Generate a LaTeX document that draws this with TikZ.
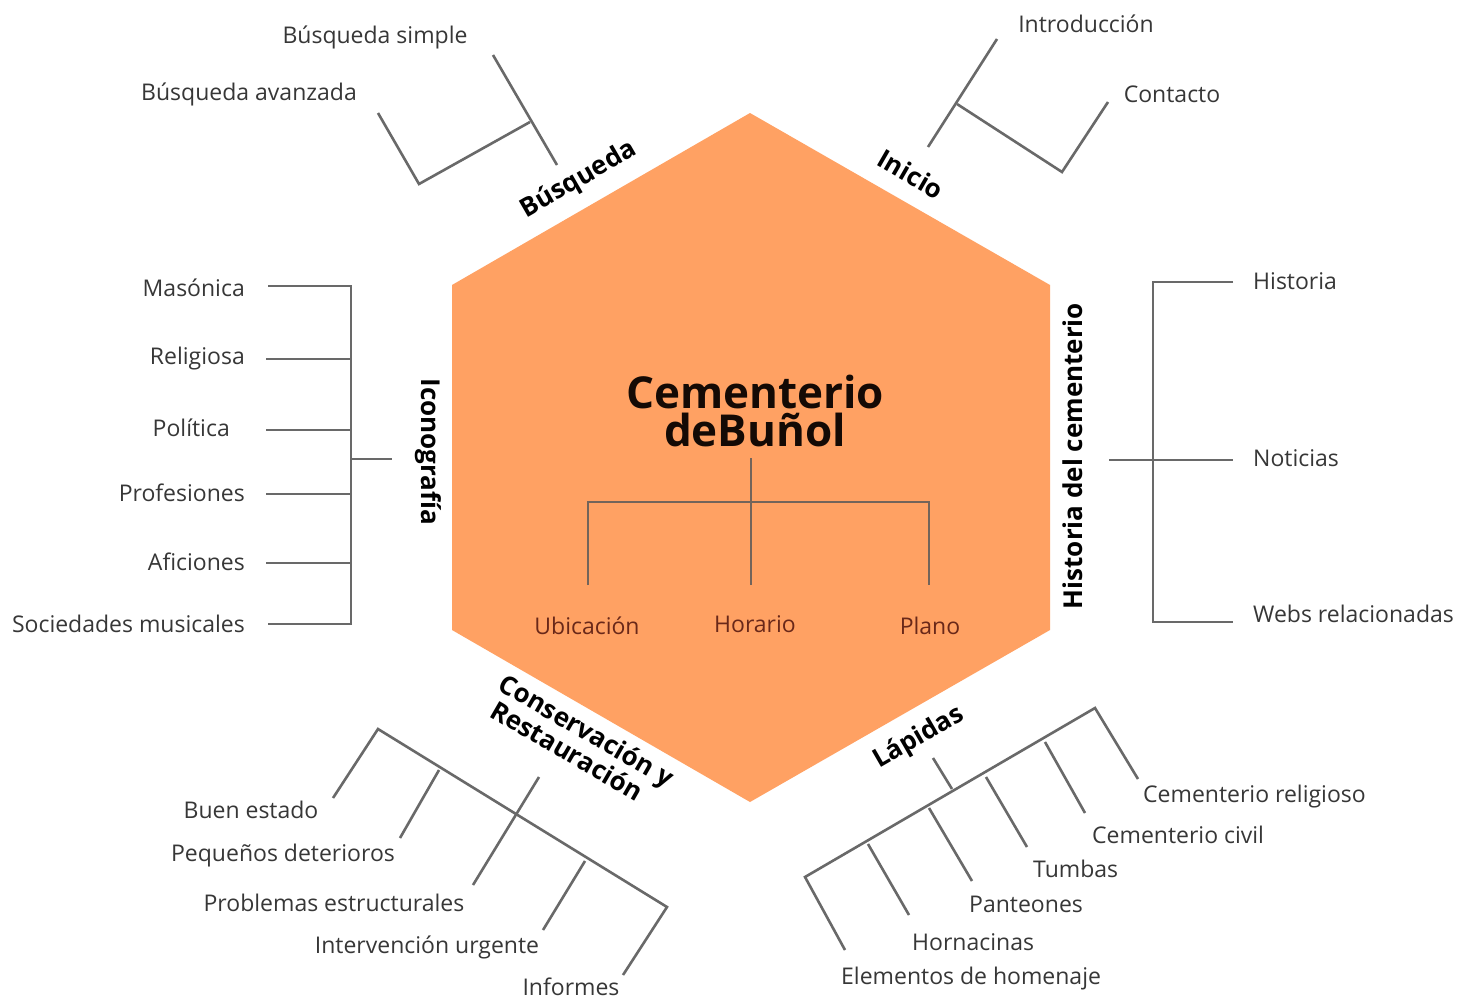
\documentclass[tikz,border=0pt]{standalone}
\usepackage{fontspec}
\setmainfont{Open Sans}
\definecolor{hexfill}{RGB}{255,161,99}
\definecolor{linegray}{RGB}{105,105,105}
\definecolor{innerline}{RGB}{115,100,90}
\definecolor{txt}{RGB}{55,55,55}
\definecolor{subtxt}{RGB}{105,40,25}
\definecolor{titletxt}{RGB}{20,10,5}
\begin{document}
\begin{tikzpicture}[x=1pt,y=-1pt,
  leaf/.style={font=\fontsize{23}{27}\selectfont, text=txt, inner sep=0pt},
  sect/.style={font=\fontsize{26}{24}\selectfont\bfseries, text=black, inner sep=0pt},
  sub/.style={font=\fontsize{23}{27}\selectfont, text=subtxt, inner sep=0pt},
  ttl/.style={font=\fontsize{44}{38}\selectfont\bfseries, text=titletxt, align=center, inner sep=0pt},
  ln/.style={draw=linegray, line width=2.6pt},
  iln/.style={draw=innerline, line width=2.4pt}
]
\path[use as bounding box, fill=white] (0,0) rectangle (1477,999);

% hexagon
\fill[hexfill] (750,113) -- (1050,285) -- (1050,630) -- (750,802) -- (452,630) -- (452,285) -- cycle;

% centre
\node[ttl] (title) at (755,411) {Cementerio\\deBuñol};
\coordinate (tTop) at (751,458);
\coordinate (tMid) at (751,502);
\coordinate (tL) at (588,502);
\coordinate (tR) at (929,502);
\coordinate (tLb) at (588,585);
\coordinate (tMb) at (751,585);
\coordinate (tRb) at (929,585);
\draw[iln] (tTop) -- (tMb);
\draw[iln] (tLb) -- (tL) -- (tR) -- (tRb);
\node[sub] (ubi) at (587,626) {Ubicación};
\node[sub] (hor) at (755,624) {Horario};
\node[sub] (pla) at (930,626) {Plano};

% Busqueda
\node[sect, rotate=30] (sBus) at (579,180) {Búsqueda};
\coordinate (bs1) at (493,55);
\coordinate (bs2) at (557,165);
\coordinate (bj) at (530,122);
\coordinate (bc) at (419,184);
\coordinate (ba) at (378,113);
\draw[ln] (bs1) -- (bs2);
\draw[ln] (bj) -- (bc) -- (ba);
\node[leaf] (lbs) at (375,37) {Búsqueda simple};
\node[leaf] (lba) at (249,94) {Búsqueda avanzada};

% Inicio
\node[sect, rotate=-30] (sIni) at (911,174) {Inicio};
\coordinate (i1) at (997,39);
\coordinate (i2) at (928,147);
\coordinate (ij) at (957,104);
\coordinate (ic) at (1062,172);
\coordinate (ie) at (1108,102);
\draw[ln] (i1) -- (i2);
\draw[ln] (ij) -- (ic) -- (ie);
\node[leaf] (lin) at (1086,24) {Introducción};
\node[leaf] (lco) at (1172,94) {Contacto};

% Iconografia
\node[sect, rotate=-90] (sIco) at (428,452) {Iconografía};
\coordinate (icT) at (351,286);
\coordinate (icB) at (351,624);
\coordinate (icM) at (351,459);
\coordinate (icS) at (392,459);
\draw[ln] (268,286) -- (icT) -- (icB) -- (268,624);
\draw[ln] (icM) -- (icS);
\foreach \yy in {359,430,494,563} {\draw[ln] (266,\yy) -- (351,\yy);}
\node[leaf, anchor=east] (lmas) at (245,288) {Masónica};
\node[leaf, anchor=east] (lrel) at (245,359) {Religiosa};
\node[leaf, anchor=east] (lpol) at (230,428) {Política};
\node[leaf, anchor=east] (lpro) at (245,493) {Profesiones};
\node[leaf, anchor=east] (lafi) at (245,562) {Aficiones};
\node[leaf, anchor=east] (lsoc) at (245,624) {Sociedades musicales};

% Historia
\node[sect, rotate=90] (sHis) at (1073,456) {Historia del cementerio};
\coordinate (hT) at (1153,282);
\coordinate (hB) at (1153,622);
\coordinate (hM) at (1109,460);
\draw[ln] (1233,282) -- (hT) -- (hB) -- (1233,622);
\draw[ln] (hM) -- (1233,460);
\node[leaf, anchor=west] (lhis) at (1253,281) {Historia};
\node[leaf, anchor=west] (lnot) at (1253,458) {Noticias};
\node[leaf, anchor=west] (lweb) at (1253,614) {Webs relacionadas};

% Conservacion
\node[sect, rotate=-30, align=left] (sCon) at (580,742) {Conservación y\\\hspace{6pt}Restauración};
\coordinate (cA) at (378,729);
\coordinate (cZ) at (667,907);
\draw[ln] (333,798) -- (cA) -- (cZ) -- (623,975);
\draw[ln] (439,770) -- (400,838);
\draw[ln] (539,777) -- (473,885);
\draw[ln] (585,861) -- (543,930);
\node[leaf] (lbue) at (251,810) {Buen estado};
\node[leaf] (lpeq) at (283,856) {Pequeños deterioros};
\node[leaf] (lpst) at (334,903) {Problemas estructurales};
\node[leaf] (lint) at (427,947) {Intervención urgente};
\node[leaf] (linf) at (571,987) {Informes};

% Lapidas
\node[sect, rotate=30] (sLap) at (919,738) {Lápidas};
\coordinate (lA) at (805,877);
\coordinate (lZ) at (1095,708);
\draw[ln] (845,950) -- (lA) -- (lZ) -- (1138,779);
\draw[ln] (933,758) -- (952,789);
\draw[ln] (868,844) -- (909,915);
\draw[ln] (929,808) -- (972,881);
\draw[ln] (986,777) -- (1027,847);
\draw[ln] (1045,742) -- (1085,813);
\node[leaf, anchor=west] (lrg) at (1143,797) {Cementerio religioso};
\node[leaf, anchor=west] (lcv) at (1092,835) {Cementerio civil};
\node[leaf, anchor=west] (ltu) at (1033,869) {Tumbas};
\node[leaf, anchor=west] (lpa) at (969,904) {Panteones};
\node[leaf, anchor=west] (lho) at (912,942) {Hornacinas};
\node[leaf, anchor=west] (lel) at (841,979) {Elementos de homenaje};
\end{tikzpicture}
\end{document}
